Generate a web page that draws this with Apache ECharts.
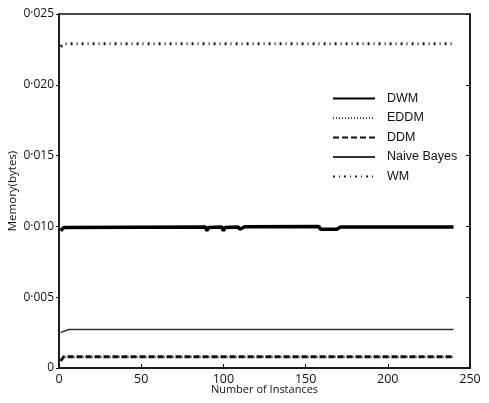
<!DOCTYPE html>
<html>
<head>
<meta charset="utf-8">
<script src="https://cdn.jsdelivr.net/npm/echarts@6/dist/echarts.min.js"></script>
<style>
  html, body { margin: 0; padding: 0; background: #fff; }
  #chart { width: 489px; height: 403px; }
</style>
</head>
<body>
<div id="chart"></div>
<script>
// values, [instances, bytes]
const seriesNames = ['DWM', 'EDDM', 'DDM', 'Naive Bayes', 'WM']
const dwm = [[1, 0.0097], [3, 0.00993], [89, 0.00995], [90, 0.0097], [91, 0.00993], [99, 0.00995], [100, 0.0097],
  [101, 0.00993], [109, 0.00995], [110, 0.0098], [111, 0.0099], [113, 0.00998], [158, 0.01], [159, 0.0098],
  [169, 0.0098], [171, 0.00995], [240, 0.00995]]
const eddm = [[1, 0.0005], [3, 0.00078], [240, 0.00078]]
const ddm = [[1, 0.0005], [3, 0.0008], [165, 0.0008], [166, 0.0007], [167, 0.0008], [240, 0.0008]]
const naiveBayes = [[1, 0.0025], [3, 0.0026], [6, 0.00272], [240, 0.00272]]
const wm = [[1, 0.0227], [3, 0.0229], [240, 0.0229]]
const xTicks = [0, 50, 100, 150, 200, 250]

const chart = echarts.init(document.getElementById('chart'))

const fmtY = (v) => {
  if (v === 0) return '0'
  return v.toFixed(3).replace('.', '·')
}

const makeLine = (name, data, width, type, color) => ({
  name,
  type: 'line',
  data,
  symbol: 'none',
  animation: false,
  lineStyle: { width, type, color, cap: 'butt' },
  itemStyle: { color },
})

const options = {
  backgroundColor: '#fff',
  grid: {
    left: 59,
    right: 19,
    top: 14,
    bottom: 35,
    outerBoundsMode: 'none',
    show: true,
    borderColor: '#111',
    borderWidth: 1.5,
  },
  legend: {
    orient: 'vertical',
    left: 327,
    top: 87,
    itemWidth: 42,
    itemHeight: 12,
    itemGap: 6.5,
    data: seriesNames,
    itemStyle: { opacity: 0 },
    textStyle: { fontFamily: 'Liberation Sans', fontSize: 12.5, color: '#111', padding: [0, 0, 0, 7] },
  },
  xAxis: {
    type: 'value',
    min: 0,
    max: 250,
    interval: 50,
    name: 'Number of Instances',
    nameLocation: 'middle',
    nameGap: 16,
    nameMoveOverlap: false,
    nameTextStyle: { fontFamily: 'Open Sans', fontSize: 11, color: '#111' },
    axisLine: { lineStyle: { color: '#111', width: 1.5 } },
    axisTick: { inside: true, length: 4, lineStyle: { color: '#111' } },
    axisLabel: {
      fontFamily: 'Open Sans',
      fontSize: 12.5,
      color: '#111',
      margin: 5,
      formatter: (v) => (xTicks.includes(v) ? String(v) : ''),
    },
    splitLine: { show: false },
  },
  yAxis: [
    {
      type: 'value',
      min: 0,
      max: 0.025,
      interval: 0.005,
      name: 'Memory(bytes)',
      nameLocation: 'middle',
      nameGap: 40,
      nameMoveOverlap: false,
      nameTextStyle: { fontFamily: 'Open Sans', fontSize: 11.5, color: '#111' },
      axisLine: { show: true, lineStyle: { color: '#111', width: 1.5 } },
      axisTick: { show: true, length: 3, lineStyle: { color: '#111' } },
      axisLabel: { fontFamily: 'Open Sans', fontSize: 12, color: '#111', margin: 5, formatter: fmtY },
      splitLine: { show: false },
    },
    {
      type: 'value',
      min: 0,
      max: 0.025,
      interval: 0.005,
      position: 'right',
      axisLine: { show: true, lineStyle: { color: '#111', width: 1.5 } },
      axisTick: { show: true, inside: true, length: 4, lineStyle: { color: '#111' } },
      axisLabel: { show: false },
      splitLine: { show: false },
    },
  ],
  series: [
    makeLine('WM', wm, 3, [2, 4, 1, 4], '#222'),
    makeLine('Naive Bayes', naiveBayes, 1.5, 'solid', '#333'),
    makeLine('EDDM', eddm, 2, [1, 2], '#444'),
    makeLine('DDM', ddm, 3, [6, 3], '#111'),
    makeLine('DWM', dwm, 3.5, 'solid', '#000'),
  ],
}

chart.setOption(options, true)
</script>
</body>
</html>
